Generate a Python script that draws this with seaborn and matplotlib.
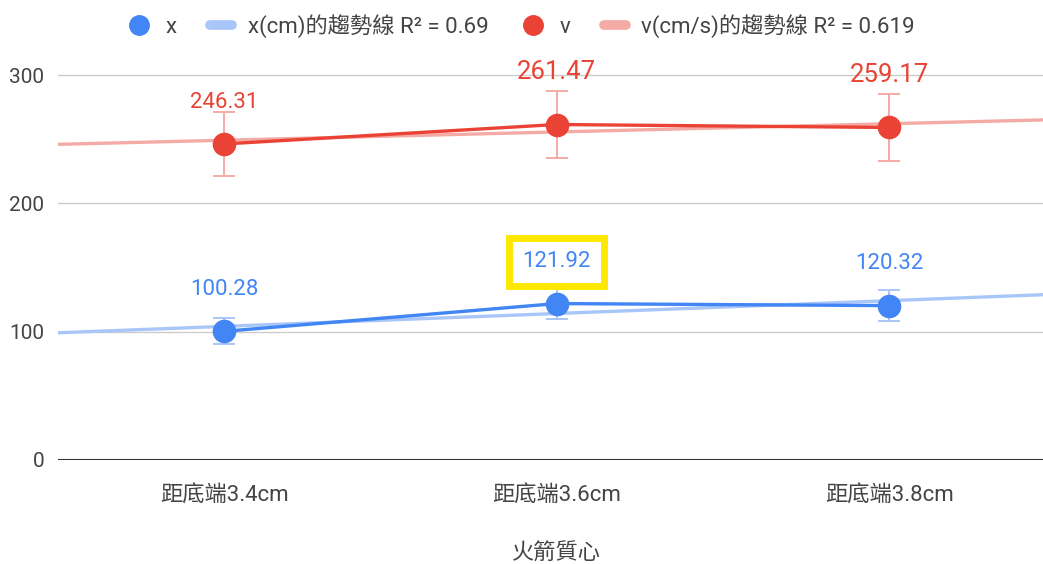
import numpy as np
import pandas as pd
import matplotlib
matplotlib.use("Agg")
import matplotlib.pyplot as plt
from matplotlib.lines import Line2D
import seaborn as sns

# data
categories = ["距底端3.4cm", "距底端3.6cm", "距底端3.8cm"]
x_values = [100.28, 121.92, 120.32]
v_values = [246.31, 261.47, 259.17]
err_pct = 0.10
x_r2 = 0.69
v_r2 = 0.619

BLUE = "#4285F4"
RED = "#EA4335"
BLUE_LT = "#A9C6F8"
RED_LT = "#F4ABA5"
TXT = "#444444"

sns.set_style("white")
plt.rcParams["font.family"] = ["Roboto", "Noto Sans CJK TC", "DejaVu Sans"]

df = pd.DataFrame({"pos": np.arange(len(categories)), "x": x_values, "v": v_values})

fig = plt.figure(figsize=(10.43, 5.64), dpi=100)
ax = fig.add_axes([0.0556, 0.1844, 0.9564, 0.728])
ax.set_xlim(-0.5, 2.5)
ax.set_ylim(0, 320)

# gridlines
for yv in [100, 200, 300]:
    ax.axhline(yv, color="#cccccc", lw=1, zorder=0)
ax.axhline(0, color="#333333", lw=1.5, zorder=1)

# trendlines (linear fit over the whole width)
for col, c in [("x", BLUE_LT), ("v", RED_LT)]:
    sns.regplot(data=df, x="pos", y=col, ax=ax, scatter=False, ci=None,
                truncate=False, line_kws={"color": c, "lw": 2.4, "zorder": 2})

# error bars
for col, c in [("x", BLUE_LT), ("v", RED_LT)]:
    ax.errorbar(df["pos"], df[col], yerr=df[col] * err_pct, fmt="none",
                ecolor=c, elinewidth=1.4, capsize=8, capthick=1.4, zorder=3)

# data lines
for col, c in [("x", BLUE), ("v", RED)]:
    sns.lineplot(data=df, x="pos", y=col, ax=ax, color=c, lw=2.4, marker="o",
                 markersize=17, markeredgewidth=0, zorder=4)

# data labels
label_sizes = {"x": [16, 16, 16], "v": [16, 18.5, 18.5]}
label_offsets = {"x": [30, 30, 30], "v": [30, 38, 38]}
for col, c in [("x", BLUE), ("v", RED)]:
    for i, val in enumerate(df[col]):
        kw = {}
        if col == "x" and i == 1:
            kw["bbox"] = dict(boxstyle="square,pad=0.6", fc="white",
                              ec="#FFE800", lw=5)
        ax.annotate(f"{val:.2f}", (i, val), xytext=(0, label_offsets[col][i]),
                    textcoords="offset points", ha="center", va="center",
                    color=c, fontsize=label_sizes[col][i], zorder=6, **kw)

ax.set_xticks(df["pos"])
ax.set_xticklabels(categories)
ax.set_yticks([0, 100, 200, 300])
ax.tick_params(axis="x", direction="inout", length=16, width=1.3,
               color="#333333", labelsize=16, labelcolor=TXT, pad=10)
ax.tick_params(axis="y", length=0, labelsize=15, labelcolor=TXT, pad=10)
ax.set_xlabel("火箭質心", fontsize=16, color=TXT, labelpad=27)
ax.set_ylabel("")
sns.despine(ax=ax, left=True, bottom=True, top=True, right=True)

handles = [
    Line2D([], [], marker="o", color=BLUE, ls="none", markersize=14),
    Line2D([], [], color=BLUE_LT, lw=7),
    Line2D([], [], marker="o", color=RED, ls="none", markersize=14),
    Line2D([], [], color=RED_LT, lw=7),
]
labels = ["x", f"x(cm)的趨勢線 R² = {x_r2}", "v", f"v(cm/s)的趨勢線 R² = {v_r2}"]
leg = fig.legend(handles, labels, loc="upper center", bbox_to_anchor=(0.5, 1.01),
                 ncol=4, frameon=False, fontsize=16, handlelength=1.0,
                 columnspacing=1.5, handletextpad=0.7)
for t in leg.get_texts():
    t.set_color(TXT)

fig.savefig("out.png", dpi=100)
